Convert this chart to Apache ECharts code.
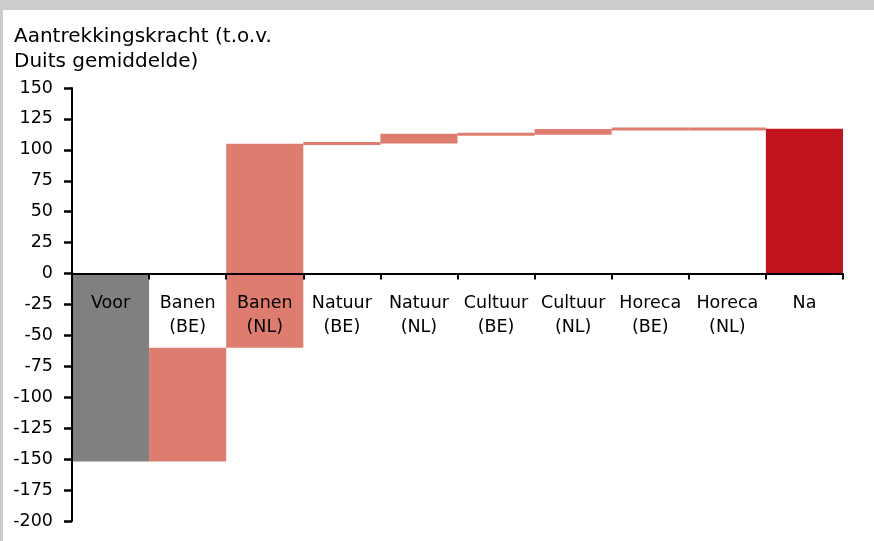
<!DOCTYPE html>
<html>
<head>
<meta charset="utf-8">
<script src="https://cdn.jsdelivr.net/npm/echarts@6/dist/echarts.min.js"></script>
<style>
  html, body { margin: 0; padding: 0; background: #ffffff; }
  #chart { width: 874px; height: 541px; }
</style>
</head>
<body>
<div id="chart"></div>
<script>
// Waterfall: starting level, step changes per factor, resulting level
const categories = ['Voor', 'Banen\n(BE)', 'Banen\n(NL)', 'Natuur\n(BE)', 'Natuur\n(NL)',
  'Cultuur\n(BE)', 'Cultuur\n(NL)', 'Horeca\n(BE)', 'Horeca\n(NL)', 'Na'];
const startLevel = -152;
const steps = [92, 165, 0.2, 7.8, -0.8, 4.6, 0.1, 0.1];
const yTicks = { min: -200, max: 150, interval: 25 };

const colorStart = '#808080';
const colorStep = '#DF7C70';
const colorEnd = '#C1141F';

// Build [index, low, high, kind] rows from the running total
const rows = [];
rows.push([0, Math.min(0, startLevel), Math.max(0, startLevel), 0]);
let level = startLevel;
steps.forEach((d, i) => {
  const next = level + d;
  rows.push([i + 1, Math.min(level, next), Math.max(level, next), 1]);
  level = next;
});
rows.push([categories.length - 1, Math.min(0, level), Math.max(0, level), 2]);

const kindColors = [colorStart, colorStep, colorEnd];
const font = '"DejaVu Sans", sans-serif';
const labelSize = 17.5;

const chart = echarts.init(document.getElementById('chart'), null, { renderer: 'canvas' });
chart.setOption({
  animation: false,
  backgroundColor: '#ffffff',
  textStyle: { fontFamily: font },
  graphic: [
    { type: 'rect', shape: { x: 0, y: 0, width: 874, height: 10 }, style: { fill: '#cccccc' }, z: 100 },
    { type: 'rect', shape: { x: 0, y: 0, width: 3, height: 541 }, style: { fill: '#cccccc' }, z: 100 }
  ],
  title: {
    text: 'Aantrekkingskracht (t.o.v.\nDuits gemiddelde)',
    left: 9,
    top: 19,
    textStyle: { fontFamily: font, fontSize: 20, fontWeight: 'normal', color: '#000', lineHeight: 25 }
  },
  grid: { left: 72, right: 31, top: 88, bottom: 20, containLabel: false, outerBoundsMode: 'none' },
  xAxis: {
    type: 'category',
    data: categories,
    z: 10,
    axisLine: { onZero: true, lineStyle: { color: '#000', width: 2 } },
    axisTick: { show: true, length: 6, lineStyle: { color: '#000', width: 2 } },
    axisLabel: { show: false },
    splitLine: { show: false }
  },
  yAxis: {
    type: 'value',
    min: yTicks.min,
    max: yTicks.max,
    interval: yTicks.interval,
    z: 10,
    axisLine: { show: true, lineStyle: { color: '#000', width: 2 } },
    axisTick: { show: true, length: 8, lineStyle: { color: '#000', width: 2.5 } },
    axisLabel: { color: '#000', fontFamily: font, fontSize: labelSize, margin: 19 },
    splitLine: { show: false }
  },
  series: [{
    type: 'custom',
    data: rows,
    encode: { x: 0, y: [1, 2] },
    renderItem: function (params, api) {
      const idx = api.value(0);
      const top = api.coord([idx, api.value(2)]);
      const bottom = api.coord([idx, api.value(1)]);
      const w = api.size([1, 0])[0];
      let y0 = top[1];
      let h = bottom[1] - top[1];
      if (h < 3) { y0 = (top[1] + bottom[1]) / 2 - 1.5; h = 3; }
      return {
        type: 'rect',
        shape: { x: top[0] - w / 2, y: y0, width: w, height: h },
        style: { fill: kindColors[api.value(3)] }
      };
    }
  }, {
    // category names sit just under the zero line, on top of the bars
    type: 'custom',
    z: 20,
    data: categories.map((c, i) => [i, 0]),
    encode: { x: 0, y: 1 },
    renderItem: function (params, api) {
      const p = api.coord([api.value(0), 0]);
      return {
        type: 'text',
        x: p[0],
        y: p[1] + 17.5,
        style: {
          text: categories[api.value(0)],
          fill: '#000',
          font: labelSize + 'px ' + font,
          lineHeight: 24,
          align: 'center',
          verticalAlign: 'top'
        }
      };
    }
  }]
});
</script>
</body>
</html>
